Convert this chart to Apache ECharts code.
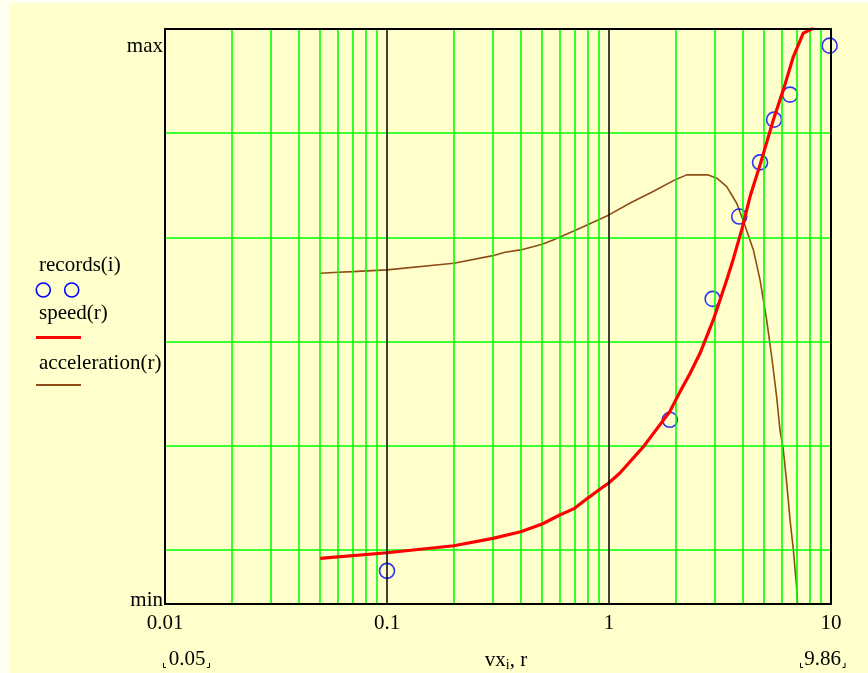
<!DOCTYPE html>
<html>
<head>
<meta charset="utf-8">
<script src="https://cdn.jsdelivr.net/npm/echarts@6/dist/echarts.min.js"></script>
<style>
  html, body { margin: 0; padding: 0; background: #FFFFF2; }
  #chart {
    width: 868px; height: 673px;
    background:
      linear-gradient(#FFFFF2, #FFFFF2) left top / 9px 100% no-repeat,
      linear-gradient(#FFFFF2, #FFFFF2) left top / 100% 3px no-repeat,
      #FFFFCC;
  }
</style>
</head>
<body>
<div id="chart"></div>
<script>
// ---- data ----
const xTickLabels = ['0.01', '0.1', '1', '10'];
const yTickLabels = ['min', 'max'];
const rangeLabels = ['0.05', '9.86'];

// records(i): vx_i and values
const recordsX = [0.1, 1.88, 2.93, 3.86, 4.79, 5.54, 6.54, 9.86];
const recordsY = [-0.20, 1.25, 2.41, 3.20, 3.72, 4.13, 4.37, 4.84];

// speed(r)
const speedR = [0.05, 0.1, 0.2, 0.3, 0.4, 0.5, 0.6, 0.7, 0.8, 0.9, 1.0, 1.12, 1.43, 1.88, 2.09, 2.32, 2.57, 2.95, 3.39, 3.62, 3.96, 4.32, 4.79, 5.50, 6.10, 6.77, 7.50, 8.19, 9.86];
const speedV = [-0.080, -0.026, 0.041, 0.112, 0.176, 0.250, 0.336, 0.400, 0.496, 0.576, 0.646, 0.739, 0.992, 1.33, 1.52, 1.696, 1.888, 2.208, 2.592, 2.784, 3.072, 3.392, 3.696, 4.128, 4.416, 4.736, 4.960, 5.0, 5.9];

// acceleration(r)
const accR = [0.05, 0.06, 0.07, 0.1, 0.2, 0.3, 0.34, 0.4, 0.5, 0.56, 0.74, 1.0, 1.24, 1.58, 1.98, 2.24, 2.80, 3.06, 3.39, 3.76, 4.09, 4.47, 4.79, 5.13, 5.41, 5.69, 5.89, 6.10, 6.32, 6.54, 6.77, 6.89, 7.02, 7.10];
const accV = [2.656, 2.666, 2.672, 2.688, 2.752, 2.825, 2.858, 2.880, 2.935, 2.976, 3.088, 3.216, 3.328, 3.440, 3.552, 3.600, 3.600, 3.568, 3.488, 3.328, 3.120, 2.880, 2.592, 2.208, 1.85, 1.472, 1.152, 0.960, 0.640, 0.288, 0.0, -0.192, -0.384, -0.6];

// grid lines
const minorX = [0.02,0.03,0.04,0.05,0.06,0.07,0.08,0.09, 0.2,0.3,0.4,0.5,0.6,0.7,0.8,0.9, 2,3,4,5,6,7,8,9];
const hLines = [0, 1, 2, 3, 4];

const X_MIN = 0.01, X_MAX = 10;
const Y_MIN = -0.518, Y_MAX = 5;

const FONT = '"Liberation Serif", "Times New Roman", serif';
const FS = 21;
const GREEN = '#00FF00', RED = '#FF0000', BLUE = '#0000FF', BROWN = '#8E4D16';

const chart = echarts.init(document.getElementById('chart'), null, { renderer: 'canvas' });

const zipXY = (xs, ys) => xs.map((x, i) => [x, ys[i]]);

const option = {
  animation: false,
  backgroundColor: 'transparent',
  textStyle: { fontFamily: FONT },
  grid: { show: false, left: 165, top: 29, width: 666, height: 575, containLabel: false, outerBoundsMode: 'none' },
  xAxis: [
    {
      type: 'log', logBase: 10, min: X_MIN, max: X_MAX, position: 'bottom', z: 10,
      axisLine: { show: true, onZero: false, lineStyle: { color: '#000', width: 2 } },
      axisTick: { show: false },
      splitLine: { show: true, lineStyle: { color: '#000', width: 1.5 } },
      axisLabel: {
        show: true, margin: 9, color: '#000', fontSize: FS, fontFamily: FONT,
        formatter: (v, i) => xTickLabels[i] !== undefined ? xTickLabels[i] : ''
      },
      name: '{t|vx}{s|i}{t|, r}',
      nameLocation: 'middle', nameGap: 44,
      nameTextStyle: {
        color: '#000', fontFamily: FONT, padding: [0, 0, 0, 16],
        rich: {
          t: { fontSize: FS, fontFamily: FONT, color: '#000' },
          s: { fontSize: 14, fontFamily: FONT, color: '#000', padding: [10, 0, 0, 0] }
        }
      }
    },
    {
      type: 'log', logBase: 10, min: X_MIN, max: X_MAX, position: 'top', z: 10,
      axisLine: { show: true, onZero: false, lineStyle: { color: '#000', width: 2 } },
      axisTick: { show: false }, axisLabel: { show: false }, splitLine: { show: false }
    }
  ],
  yAxis: [
    {
      type: 'value', min: Y_MIN, max: Y_MAX, position: 'left', z: 10,
      axisLine: { show: true, onZero: false, lineStyle: { color: '#000', width: 2 } },
      axisTick: { show: false },
      splitLine: { show: false },
      axisLabel: {
        show: true, margin: 2, color: '#000', fontSize: FS, fontFamily: FONT,
        showMinLabel: true, showMaxLabel: true,
        formatter: (v) => {
          if (Math.abs(v - Y_MAX) < 1e-6) return '{mx|' + yTickLabels[1] + '}';
          if (Math.abs(v - Y_MIN) < 1e-6) return '{mn|' + yTickLabels[0] + '}';
          return '';
        },
        rich: {
          mx: { fontSize: FS, fontFamily: FONT, color: '#000', padding: [34, 0, 0, 0] },
          mn: { fontSize: FS, fontFamily: FONT, color: '#000', padding: [0, 0, 8, 0] }
        }
      }
    },
    {
      type: 'value', min: Y_MIN, max: Y_MAX, position: 'right', z: 10,
      axisLine: { show: true, onZero: false, lineStyle: { color: '#000', width: 2 } },
      axisTick: { show: false }, axisLabel: { show: false }, splitLine: { show: false }
    }
  ],
  series: [
    {
      name: 'grid', type: 'line', data: [], z: 1, silent: true,
      markLine: {
        silent: true, symbol: ['none', 'none'], label: { show: false },
        lineStyle: { color: GREEN, width: 1.6, type: 'solid' },
        emphasis: { disabled: true },
        data: minorX.map(v => ({ xAxis: v })).concat(hLines.map(v => ({ yAxis: v })))
      }
    },
    {
      name: 'acceleration(r)', type: 'line', z: 3, clip: true,
      data: zipXY(accR, accV), showSymbol: false, symbol: 'none',
      lineStyle: { color: BROWN, width: 1.6 }
    },
    {
      name: 'records(i)', type: 'scatter', z: 4, clip: true,
      data: zipXY(recordsX, recordsY), symbol: 'circle', symbolSize: 15,
      itemStyle: { color: 'transparent', borderColor: BLUE, borderWidth: 1.6 }
    },
    {
      name: 'speed(r)', type: 'line', z: 5, clip: true,
      data: zipXY(speedR, speedV), showSymbol: false, symbol: 'none',
      lineStyle: { color: RED, width: 3.2 }
    }
  ],
  graphic: [
    // legend
    { type: 'text', style: { x: 39, y: 265, text: 'records(i)', font: FS + 'px ' + FONT, fill: '#000', verticalAlign: 'middle' } },
    { type: 'circle', shape: { cx: 43.3, cy: 290, r: 7 }, style: { fill: 'none', stroke: BLUE, lineWidth: 1.6 } },
    { type: 'circle', shape: { cx: 71.7, cy: 290, r: 7 }, style: { fill: 'none', stroke: BLUE, lineWidth: 1.6 } },
    { type: 'text', style: { x: 39, y: 313, text: 'speed(r)', font: FS + 'px ' + FONT, fill: '#000', verticalAlign: 'middle' } },
    { type: 'line', shape: { x1: 36, y1: 337.5, x2: 81, y2: 337.5 }, style: { stroke: RED, lineWidth: 3 } },
    { type: 'text', style: { x: 39, y: 363, text: 'acceleration(r)', font: FS + 'px ' + FONT, fill: '#000', verticalAlign: 'middle' } },
    { type: 'line', shape: { x1: 36, y1: 385, x2: 81, y2: 385 }, style: { stroke: BROWN, lineWidth: 2 } },
    // range limits
    { type: 'text', style: { x: 187, y: 659, text: rangeLabels[0], font: FS + 'px ' + FONT, fill: '#000', align: 'center', verticalAlign: 'middle' } },
    { type: 'polyline', shape: { points: [[163.5, 663], [163.5, 667.5], [166, 667.5]] }, style: { stroke: '#000', lineWidth: 1, fill: 'none' } },
    { type: 'polyline', shape: { points: [[207, 667.5], [209.5, 667.5], [209.5, 663]] }, style: { stroke: '#000', lineWidth: 1, fill: 'none' } },
    { type: 'text', style: { x: 822.5, y: 659, text: rangeLabels[1], font: FS + 'px ' + FONT, fill: '#000', align: 'center', verticalAlign: 'middle' } },
    { type: 'polyline', shape: { points: [[800.5, 663], [800.5, 667.5], [803, 667.5]] }, style: { stroke: '#000', lineWidth: 1, fill: 'none' } },
    { type: 'polyline', shape: { points: [[842.5, 667.5], [845, 667.5], [845, 663]] }, style: { stroke: '#000', lineWidth: 1, fill: 'none' } }
  ]
};

chart.setOption(option);
</script>
</body>
</html>
